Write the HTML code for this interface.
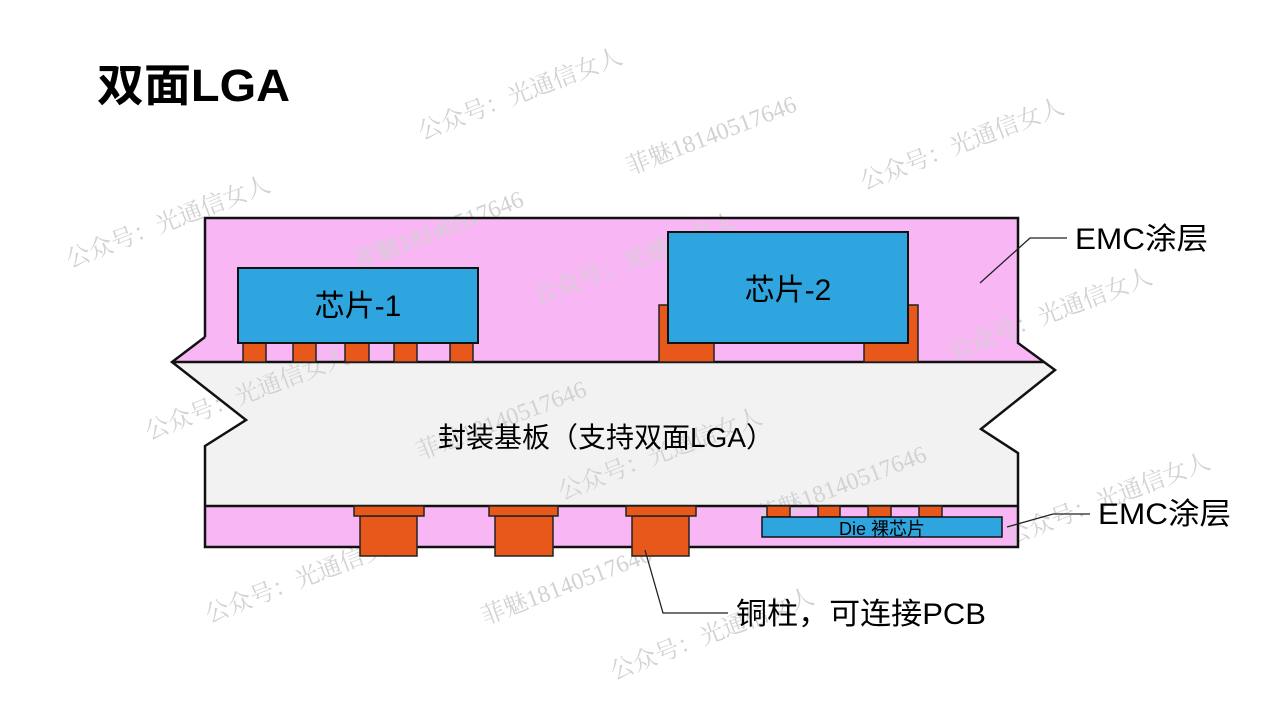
<!DOCTYPE html>
<html><head><meta charset="utf-8"><style>
html,body{margin:0;padding:0;background:#fff;}
svg{display:block;}
.wm{font-family:"Liberation Serif","Noto Serif CJK SC",serif;font-size:24px;fill:#d2d2d2;}
.lb{font-family:"Liberation Sans","Noto Sans CJK SC",sans-serif;fill:#000;}
</style></head><body>
<svg width="1280" height="719" viewBox="0 0 1280 719" xmlns="http://www.w3.org/2000/svg">
<rect width="1280" height="719" fill="#fff"/>
<text x="97" y="101" class="lb" font-size="45" font-weight="bold" textLength="193" lengthAdjust="spacingAndGlyphs">双面LGA</text>

<!-- top EMC -->
<polygon points="205,218 1018,218 1018,343 1055,370 205,370 172,362 205,337" fill="#f8b7f4"/>
<!-- substrate -->
<polygon points="172,362 1044,362 1055,370 981,429 1018,453 1018,506 205,506 205,446 246,420" fill="#f2f2f2"/>
<!-- bottom EMC -->
<rect x="205" y="506" width="813" height="41" fill="#f8b7f4"/>

<!-- watermarks -->
<g class="wm">
<text transform="translate(422,140) rotate(-21)">公众号：光通信女人</text>
<text transform="translate(630,175) rotate(-21)">菲魅18140517646</text>
<text transform="translate(864,190) rotate(-21)">公众号：光通信女人</text>
<text transform="translate(70,268) rotate(-21)">公众号：光通信女人</text>
<text transform="translate(357,270) rotate(-21)">菲魅18140517646</text>
<text transform="translate(537,305) rotate(-21)">公众号：光通信女人</text>
<text transform="translate(694,345) rotate(-21)">菲魅18140517646</text>
<text transform="translate(952,360) rotate(-21)">公众号：光通信女人</text>
<text transform="translate(149,440) rotate(-21)">公众号：光通信女人</text>
<text transform="translate(420,460) rotate(-21)">菲魅18140517646</text>
<text transform="translate(562,500) rotate(-21)">公众号：光通信女人</text>
<text transform="translate(760,525) rotate(-21)">菲魅18140517646</text>
<text transform="translate(1010,545) rotate(-21)">公众号：光通信女人</text>
<text transform="translate(209,623) rotate(-21)">公众号：光通信女人</text>
<text transform="translate(485,625) rotate(-21)">菲魅18140517646</text>
<text transform="translate(614,680) rotate(-21)">公众号：光通信女人</text>
</g>

<!-- outlines -->
<polyline points="205,337 205,218 1018,218 1018,343 1055,370 981,429 1018,453 1018,547 205,547 205,446 246,420 172,362 205,337" fill="none" stroke="#111" stroke-width="2.5"/>
<line x1="172" y1="362" x2="1044" y2="362" stroke="#111" stroke-width="2.5"/>
<line x1="205" y1="506" x2="1018" y2="506" stroke="#111" stroke-width="2.5"/>

<g fill="#e8581a" stroke="#222" stroke-width="1.5">
<rect x="243" y="343" width="23" height="19"/><rect x="293" y="343" width="23" height="19"/><rect x="345" y="343" width="24" height="19"/><rect x="394" y="343" width="23" height="19"/><rect x="450" y="343" width="23" height="19"/>
<rect x="659" y="305" width="55" height="57"/><rect x="864" y="305" width="54" height="57"/>
<rect x="360" y="516" width="57" height="40"/><rect x="354" y="506" width="70" height="10"/>
<rect x="495" y="516" width="58" height="40"/><rect x="489" y="506" width="69" height="10"/>
<rect x="632" y="516" width="57" height="40"/><rect x="626" y="506" width="70" height="10"/>
<rect x="767" y="506" width="23" height="11"/><rect x="818" y="506" width="22" height="11"/><rect x="868" y="506" width="23" height="11"/><rect x="919" y="506" width="23" height="11"/>
</g>
<g fill="#2ea5df" stroke="#111" stroke-width="2">
<rect x="238" y="268" width="240" height="75"/>
<rect x="668" y="232" width="240" height="111"/>
<rect x="762" y="517" width="240" height="20" stroke-width="1.5"/>
</g>
<text x="358" y="316" class="lb" font-size="30" text-anchor="middle">芯片-1</text>
<text x="788" y="300" class="lb" font-size="30" text-anchor="middle">芯片-2</text>
<text x="606" y="447" class="lb" font-size="28" text-anchor="middle">封装基板（支持双面LGA）</text>
<text x="882" y="535" class="lb" font-size="18" text-anchor="middle">Die 裸芯片</text>

<g fill="none" stroke="#222" stroke-width="1.3">
<polyline points="980,283 1030,238 1067,238"/>
<polyline points="1007,527 1053,514 1090,514"/>
<polyline points="645,550 663,613 728,613"/>
</g>
<text x="1075" y="249" class="lb" font-size="30" textLength="133" lengthAdjust="spacingAndGlyphs">EMC涂层</text>
<text x="1098" y="524" class="lb" font-size="30" textLength="133" lengthAdjust="spacingAndGlyphs">EMC涂层</text>
<text x="736" y="624" class="lb" font-size="30" textLength="250" lengthAdjust="spacingAndGlyphs">铜柱，可连接PCB</text>
</svg>
</body></html>
